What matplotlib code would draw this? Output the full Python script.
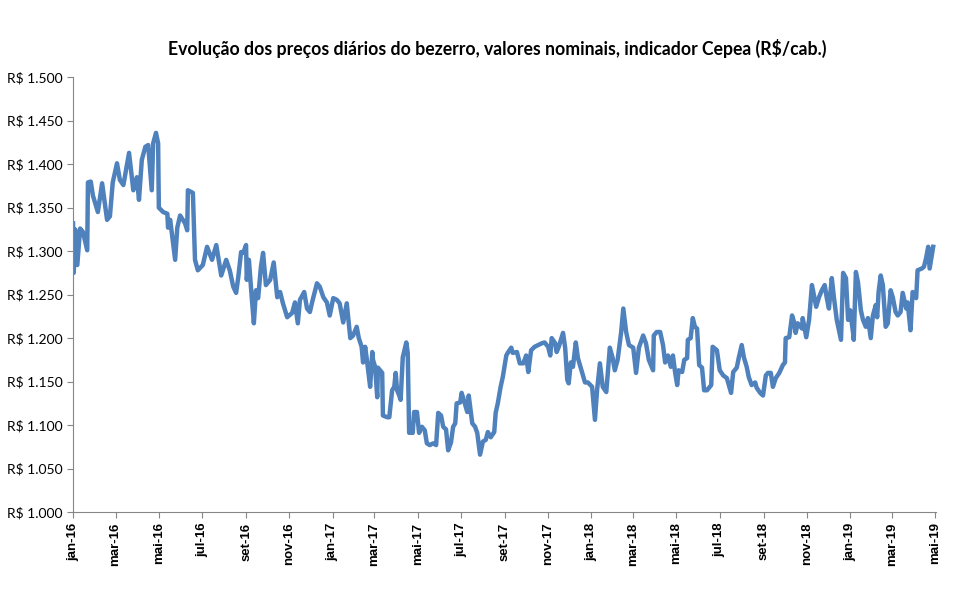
import matplotlib
matplotlib.use("Agg")
import matplotlib.pyplot as plt
import matplotlib.ticker as mticker
import numpy as np
import pandas as pd

# dias corridos desde 01/01/2016 e preco (R$/cab.)
days = [0, 1, 3, 6, 10, 14, 20, 21, 25, 28, 35, 41, 48, 52, 56, 62, 66, 71, 76, 79,
        85, 90, 93, 97, 102, 106, 111, 113, 117, 120, 121, 127, 133, 134, 137, 144, 147, 151, 158, 161,
        162, 169, 172, 176, 183, 189, 196, 202, 209, 216, 221, 226, 230, 233, 237, 240, 244, 245, 248, 252,
        255, 258, 261, 265, 268, 272, 278, 283, 288, 292, 296, 302, 309, 313, 317, 320, 326, 330, 334, 338,
        344, 348, 353, 358, 362, 367, 372, 376, 381, 386, 391, 395, 400, 403, 407, 409, 412, 415, 419, 422,
        423, 426, 429, 430, 436, 437, 443, 446, 450, 453, 455, 457, 460, 462, 465, 470, 472, 474, 477, 479,
        481, 485, 488, 492, 496, 499, 503, 508, 512, 515, 519, 522, 526, 529, 533, 536, 539, 541, 546, 548,
        551, 556, 558, 563, 567, 570, 574, 578, 582, 585, 589, 594, 596, 599, 603, 606, 611, 613, 618, 620,
        626, 630, 635, 639, 642, 646, 651, 656, 661, 665, 670, 673, 675, 680, 682, 685, 691, 694, 697, 699,
        702, 705, 709, 712, 718, 722, 726, 732, 736, 739, 743, 747, 752, 757, 761, 764, 768, 773, 776, 780,
        784, 790, 794, 798, 804, 808, 812, 818, 819, 823, 828, 832, 835, 839, 843, 846, 849, 852, 854, 859,
        862, 866, 867, 871, 874, 877, 880, 883, 887, 890, 894, 900, 902, 908, 912, 917, 922, 928, 931, 936,
        939, 943, 946, 950, 953, 957, 962, 964, 969, 973, 977, 980, 984, 987, 991, 996, 1001, 1004, 1005, 1010,
        1014, 1017, 1019, 1022, 1028, 1029, 1034, 1038, 1042, 1043, 1048, 1052, 1056, 1060, 1063, 1066, 1070, 1073, 1077, 1083,
        1086, 1090, 1093, 1096, 1100, 1101, 1104, 1107, 1111, 1114, 1118, 1121, 1125, 1128, 1132, 1134, 1136, 1139, 1142, 1146,
        1149, 1153, 1156, 1160, 1163, 1167, 1170, 1175, 1177, 1181, 1184, 1189, 1191, 1197, 1200, 1203, 1206, 1208, 1213]

precos = [1332, 1275, 1325, 1284, 1326, 1322, 1301, 1379, 1380, 1364, 1345, 1378, 1336, 1340, 1379, 1401, 1382, 1376, 1399, 1413,
          1370, 1385, 1359, 1405, 1420, 1422, 1370, 1424, 1436, 1424, 1350, 1345, 1343, 1327, 1336, 1290, 1327, 1341, 1332, 1324,
          1370, 1367, 1290, 1278, 1284, 1305, 1290, 1307, 1272, 1290, 1278, 1259, 1252, 1270, 1299, 1298, 1307, 1267, 1290, 1247,
          1217, 1255, 1246, 1282, 1298, 1261, 1267, 1287, 1247, 1253, 1240, 1224, 1229, 1241, 1217, 1244, 1253, 1234, 1230, 1244,
          1263, 1259, 1247, 1241, 1226, 1246, 1244, 1240, 1218, 1240, 1200, 1203, 1213, 1200, 1190, 1172, 1190, 1171, 1144, 1184,
          1175, 1167, 1132, 1166, 1160, 1111, 1109, 1109, 1140, 1144, 1160, 1140, 1134, 1129, 1178, 1195, 1183, 1091, 1092, 1091,
          1115, 1115, 1091, 1098, 1094, 1079, 1077, 1079, 1077, 1114, 1111, 1098, 1095, 1071, 1080, 1098, 1102, 1125, 1126, 1137,
          1129, 1115, 1134, 1102, 1098, 1091, 1066, 1081, 1083, 1092, 1086, 1092, 1114, 1125, 1144, 1155, 1180, 1183, 1189, 1183,
          1184, 1171, 1171, 1180, 1161, 1186, 1190, 1192, 1194, 1195, 1190, 1180, 1200, 1194, 1184, 1190, 1206, 1189, 1152, 1148,
          1172, 1167, 1195, 1177, 1160, 1149, 1149, 1144, 1106, 1140, 1171, 1144, 1138, 1189, 1177, 1163, 1175, 1207, 1234, 1207,
          1192, 1189, 1160, 1189, 1203, 1194, 1175, 1163, 1203, 1207, 1207, 1192, 1172, 1180, 1167, 1180, 1161, 1146, 1163, 1161,
          1175, 1177, 1198, 1200, 1223, 1213, 1211, 1169, 1166, 1140, 1140, 1146, 1190, 1186, 1163, 1157, 1154, 1137, 1161, 1166,
          1178, 1192, 1178, 1167, 1155, 1146, 1149, 1143, 1137, 1134, 1157, 1160, 1160, 1144, 1154, 1160, 1169, 1172, 1200, 1201,
          1226, 1218, 1206, 1217, 1211, 1223, 1201, 1221, 1261, 1257, 1236, 1247, 1255, 1261, 1246, 1234, 1269, 1247, 1221, 1198,
          1275, 1269, 1221, 1232, 1206, 1198, 1276, 1264, 1232, 1221, 1213, 1223, 1200, 1226, 1238, 1224, 1253, 1272, 1261, 1213,
          1217, 1255, 1247, 1230, 1226, 1230, 1252, 1234, 1241, 1209, 1253, 1246, 1278, 1280, 1282, 1292, 1305, 1280, 1305]

meses = ['jan', 'mar', 'mai', 'jul', 'set', 'nov']
tick_dates = pd.date_range('2016-01-01', '2019-05-01', freq='2MS')
tick_labels = ['%s-%s' % (meses[(d.month - 1) // 2], str(d.year)[2:]) for d in tick_dates]

datas = pd.Timestamp('2016-01-01') + pd.to_timedelta(days, unit='D')

fig = plt.figure(figsize=(9.61, 5.94), dpi=100)
ax = fig.add_axes([0.076, 0.138, 0.898, 0.732])

ax.plot(datas, precos, color='#4F81BD', lw=3.2, solid_joinstyle='round')

ax.set_ylim(1000, 1500)
ax.set_yticks(np.arange(1000, 1501, 50))
ax.yaxis.set_major_formatter(mticker.FuncFormatter(lambda v, p: 'R$ ' + '{:,.0f}'.format(v).replace(',', '.')))
ax.set_xlim(pd.Timestamp('2016-01-01'), pd.Timestamp('2019-05-02'))
ax.set_xticks(tick_dates)
ax.set_xticklabels(tick_labels, rotation=90, fontweight='bold', fontsize=9.5, family='Liberation Sans')
for t in ax.get_yticklabels():
    t.set_family('Lato')
    t.set_fontsize(10)

for s in ['top', 'right']:
    ax.spines[s].set_visible(False)
for s in ['left', 'bottom']:
    ax.spines[s].set_color('#868686')
ax.tick_params(axis='both', colors='#868686', length=4, labelcolor='black')

fig.suptitle('Evolução dos preços diários do bezerro, valores nominais, indicador Cepea (R$/cab.)',
             x=0.517, y=0.935, fontsize=12.7, fontweight='bold', family='Lato')

fig.savefig('out.png', dpi=100)
